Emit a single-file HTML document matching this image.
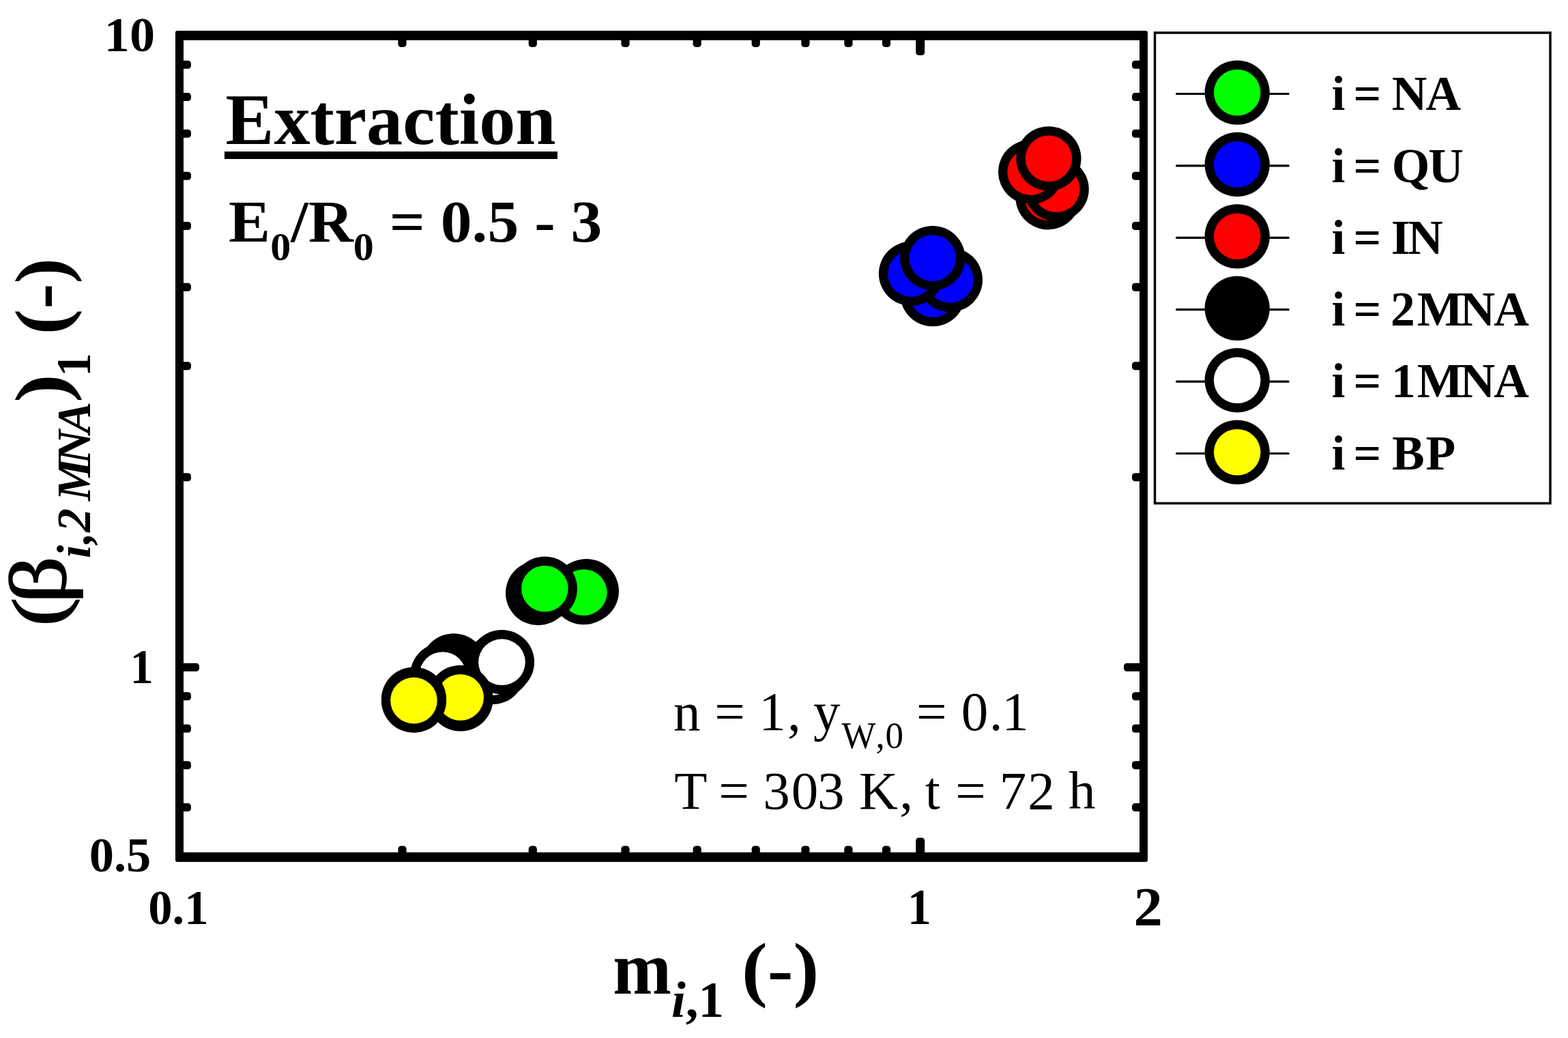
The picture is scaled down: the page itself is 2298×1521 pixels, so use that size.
<!DOCTYPE html>
<html lang="en"><head><meta charset="utf-8"><title>Extraction</title>
<style>html,body{margin:0;padding:0;background:#fff}body{width:2298px;height:1521px;overflow:hidden}svg{display:block}text{font-family:"Liberation Serif",serif;fill:#000}.b{font-weight:bold}.i{font-style:italic}.bi{font-weight:bold;font-style:italic}</style></head><body>
<svg width="2298" height="1521" viewBox="0 0 2298 1521">
<rect x="0" y="0" width="2298" height="1521" fill="#fff"/>
<g id="data">
<ellipse cx="859.4" cy="866.2" rx="47.6" ry="47.2" fill="#000"/><ellipse cx="859.4" cy="866.2" rx="34.3" ry="33.9" fill="#00ff00"/>
<ellipse cx="855.4" cy="868.1" rx="47.6" ry="47.2" fill="#000"/><ellipse cx="855.4" cy="868.1" rx="34.3" ry="33.9" fill="#00ff00"/>
<ellipse cx="788.6" cy="869.0" rx="47.6" ry="47.2" fill="#000"/><ellipse cx="788.6" cy="869.0" rx="34.3" ry="33.9" fill="#00ff00"/>
<ellipse cx="798.4" cy="862.6" rx="47.6" ry="47.2" fill="#000"/><ellipse cx="798.4" cy="862.6" rx="34.3" ry="33.9" fill="#00ff00"/>
<ellipse cx="1367.0" cy="431.1" rx="47.6" ry="47.2" fill="#000"/><ellipse cx="1367.0" cy="431.1" rx="34.3" ry="33.9" fill="#0000ff"/>
<ellipse cx="1392.4" cy="410.0" rx="47.6" ry="47.2" fill="#000"/><ellipse cx="1392.4" cy="410.0" rx="34.3" ry="33.9" fill="#0000ff"/>
<ellipse cx="1335.5" cy="401.0" rx="47.6" ry="47.2" fill="#000"/><ellipse cx="1335.5" cy="401.0" rx="34.3" ry="33.9" fill="#0000ff"/>
<ellipse cx="1366.8" cy="378.1" rx="47.6" ry="47.2" fill="#000"/><ellipse cx="1366.8" cy="378.1" rx="34.3" ry="33.9" fill="#0000ff"/>
<ellipse cx="1536.0" cy="289.2" rx="47.6" ry="47.2" fill="#000"/><ellipse cx="1536.0" cy="289.2" rx="34.3" ry="33.9" fill="#ff0000"/>
<ellipse cx="1548.2" cy="277.2" rx="47.6" ry="47.2" fill="#000"/><ellipse cx="1548.2" cy="277.2" rx="34.3" ry="33.9" fill="#ff0000"/>
<ellipse cx="1510.6" cy="252.0" rx="47.6" ry="47.2" fill="#000"/><ellipse cx="1510.6" cy="252.0" rx="34.3" ry="33.9" fill="#ff0000"/>
<ellipse cx="1536.9" cy="232.4" rx="47.6" ry="47.2" fill="#000"/><ellipse cx="1536.9" cy="232.4" rx="34.3" ry="33.9" fill="#ff0000"/>
<ellipse cx="731.0" cy="975.7" rx="47.6" ry="47.2" fill="#000"/><ellipse cx="731.0" cy="975.7" rx="34.3" ry="33.9" fill="#000000"/>
<ellipse cx="729.0" cy="975.7" rx="47.6" ry="47.2" fill="#000"/><ellipse cx="729.0" cy="975.7" rx="34.3" ry="33.9" fill="#000000"/>
<ellipse cx="665.2" cy="975.7" rx="47.6" ry="47.2" fill="#000"/><ellipse cx="665.2" cy="975.7" rx="34.3" ry="33.9" fill="#000000"/>
<ellipse cx="664.6" cy="975.7" rx="47.6" ry="47.2" fill="#000"/><ellipse cx="664.6" cy="975.7" rx="34.3" ry="33.9" fill="#000000"/>
<ellipse cx="721.6" cy="985.0" rx="47.6" ry="47.2" fill="#000"/><ellipse cx="721.6" cy="985.0" rx="34.3" ry="33.9" fill="#ffffff"/>
<ellipse cx="735.5" cy="970.2" rx="47.6" ry="47.2" fill="#000"/><ellipse cx="735.5" cy="970.2" rx="34.3" ry="33.9" fill="#ffffff"/>
<ellipse cx="648.8" cy="989.1" rx="47.6" ry="47.2" fill="#000"/><ellipse cx="648.8" cy="989.1" rx="34.3" ry="33.9" fill="#ffffff"/>
<ellipse cx="675.0" cy="1024.3" rx="47.6" ry="47.2" fill="#000"/><ellipse cx="675.0" cy="1024.3" rx="34.3" ry="33.9" fill="#ffff00"/>
<ellipse cx="674.7" cy="1021.9" rx="47.6" ry="47.2" fill="#000"/><ellipse cx="674.7" cy="1021.9" rx="34.3" ry="33.9" fill="#ffff00"/>
<ellipse cx="606.5" cy="1024.6" rx="47.6" ry="47.2" fill="#000"/><ellipse cx="606.5" cy="1024.6" rx="34.3" ry="33.9" fill="#ffff00"/>
<ellipse cx="606.5" cy="1026.5" rx="47.6" ry="47.2" fill="#000"/><ellipse cx="606.5" cy="1026.5" rx="34.3" ry="33.9" fill="#ffff00"/>
</g>
<g id="frame" fill="#000">
<path fill-rule="evenodd" d="M260 45H1679a3 3 0 0 1 3 3V1260a3 3 0 0 1-3 3H260a3 3 0 0 1-3-3V48a3 3 0 0 1 3-3ZM269 59V1249H1670V59Z"/>
</g>
<g id="ticks" fill="#000">
<rect x="263.0" y="971.8" width="29.0" height="12.0" rx="4.5"/>
<rect x="1647.0" y="971.8" width="29.0" height="12.0" rx="4.5"/>
<rect x="263.0" y="1177.1" width="17.0" height="12.0" rx="4.5"/>
<rect x="1659.0" y="1177.1" width="17.0" height="12.0" rx="4.5"/>
<rect x="263.0" y="1115.2" width="17.0" height="12.0" rx="4.5"/>
<rect x="1659.0" y="1115.2" width="17.0" height="12.0" rx="4.5"/>
<rect x="263.0" y="1061.5" width="17.0" height="12.0" rx="4.5"/>
<rect x="1659.0" y="1061.5" width="17.0" height="12.0" rx="4.5"/>
<rect x="263.0" y="1014.2" width="17.0" height="12.0" rx="4.5"/>
<rect x="1659.0" y="1014.2" width="17.0" height="12.0" rx="4.5"/>
<rect x="263.0" y="693.2" width="17.0" height="12.0" rx="4.5"/>
<rect x="1659.0" y="693.2" width="17.0" height="12.0" rx="4.5"/>
<rect x="263.0" y="530.3" width="17.0" height="12.0" rx="4.5"/>
<rect x="1659.0" y="530.3" width="17.0" height="12.0" rx="4.5"/>
<rect x="263.0" y="414.7" width="17.0" height="12.0" rx="4.5"/>
<rect x="1659.0" y="414.7" width="17.0" height="12.0" rx="4.5"/>
<rect x="263.0" y="325.0" width="17.0" height="12.0" rx="4.5"/>
<rect x="1659.0" y="325.0" width="17.0" height="12.0" rx="4.5"/>
<rect x="263.0" y="251.7" width="17.0" height="12.0" rx="4.5"/>
<rect x="1659.0" y="251.7" width="17.0" height="12.0" rx="4.5"/>
<rect x="263.0" y="189.7" width="17.0" height="12.0" rx="4.5"/>
<rect x="1659.0" y="189.7" width="17.0" height="12.0" rx="4.5"/>
<rect x="263.0" y="136.1" width="17.0" height="12.0" rx="4.5"/>
<rect x="1659.0" y="136.1" width="17.0" height="12.0" rx="4.5"/>
<rect x="263.0" y="88.7" width="17.0" height="12.0" rx="4.5"/>
<rect x="1659.0" y="88.7" width="17.0" height="12.0" rx="4.5"/>
<rect x="1342.2" y="1227.5" width="13.0" height="28.5" rx="4.5"/>
<rect x="1342.2" y="52.0" width="13.0" height="29.0" rx="4.5"/>
<rect x="583.4" y="1239.5" width="12.2" height="16.5" rx="4.5"/>
<rect x="583.4" y="52.0" width="12.2" height="17.0" rx="4.5"/>
<rect x="774.7" y="1239.5" width="12.2" height="16.5" rx="4.5"/>
<rect x="774.7" y="52.0" width="12.2" height="17.0" rx="4.5"/>
<rect x="910.4" y="1239.5" width="12.2" height="16.5" rx="4.5"/>
<rect x="910.4" y="52.0" width="12.2" height="17.0" rx="4.5"/>
<rect x="1015.6" y="1239.5" width="12.2" height="16.5" rx="4.5"/>
<rect x="1015.6" y="52.0" width="12.2" height="17.0" rx="4.5"/>
<rect x="1101.6" y="1239.5" width="12.2" height="16.5" rx="4.5"/>
<rect x="1101.6" y="52.0" width="12.2" height="17.0" rx="4.5"/>
<rect x="1174.3" y="1239.5" width="12.2" height="16.5" rx="4.5"/>
<rect x="1174.3" y="52.0" width="12.2" height="17.0" rx="4.5"/>
<rect x="1237.3" y="1239.5" width="12.2" height="16.5" rx="4.5"/>
<rect x="1237.3" y="52.0" width="12.2" height="17.0" rx="4.5"/>
<rect x="1292.9" y="1239.5" width="12.2" height="16.5" rx="4.5"/>
<rect x="1292.9" y="52.0" width="12.2" height="17.0" rx="4.5"/>
</g>
<g id="ticklabels">
<text class="b" font-size="72" transform="matrix(1.0315 0 0 1.0113 152.77 75.34)">10</text>
<text class="b" font-size="72" transform="matrix(0.9547 0 0 1.0126 190.41 1001.00)">1</text>
<text class="b" font-size="72" transform="matrix(1.0071 0 0 1.0113 130.63 1276.99)">0.5</text>
<text class="b" font-size="72" transform="matrix(0.9844 0 0 1.0113 217.19 1353.99)">0.1</text>
<text class="b" font-size="72" transform="matrix(0.9660 0 0 1.0274 1330.05 1354.40)">1</text>
<text class="b" font-size="78" transform="matrix(1.0862 0 0 1.0369 1661.47 1356.30)">2</text>
</g>
<g id="xtitle">
<text class="b" font-size="108" transform="matrix(0.9529 0 0 1.0227 898.14 1455.60)">m</text>
<text class="b" font-size="72" transform="matrix(1.0423 0 0 1.0358 983.88 1490.40)"><tspan class="i">i</tspan>,1</text>
<text class="b" font-size="108" transform="matrix(1.0497 0 0 0.9882 1087.01 1454.87)">(-)</text>
</g>
<g id="ytitle">
<text stroke="#000" stroke-width="1.6" font-size="108" transform="matrix(0 -1.1604 0.9903 0 93.12 917.61)">(</text>
<text stroke="#000" stroke-width="1.6" font-size="108" transform="matrix(0 -1.2624 1.0939 0 96.04 884.14)">β</text>
<text class="b" font-size="108" transform="matrix(0 -1.1676 0.9913 0 97.10 589.99)">)</text>
<text class="b" font-size="72" transform="matrix(0 -0.9547 1.0063 0 131.90 551.69)">1</text>
<text class="b" font-size="108" transform="matrix(0 -1.0386 0.9913 0 97.10 490.13)">(-)</text>
<text class="bi" font-size="72" transform="matrix(0 -0.9693 0.959 0 132.05 820.0)" y="0" x="2.2 23.2 41.5 88.8 144.1 190.6">i,2MNA</text>
</g>
<g id="notes">
<text class="b" font-size="104" transform="matrix(1.0220 0 0 1.0095 330.51 210.50)">Extraction</text>
<text class="b" font-size="87" transform="matrix(1.0527 0 0 0.9982 335.12 353.50)">E<tspan font-size="57" dy="28">0</tspan><tspan dy="-28">/R</tspan><tspan font-size="57" dy="28">0</tspan><tspan dy="-28"> = 0.5 - 3</tspan></text>
<text font-size="79" transform="matrix(1.0 0 0 1.02 0 1070.3)" y="0"><tspan font-size="79" dy="0" x="986.9 1026.4 1047.3 1091.9 1112.3 1154.0 1173.7 1192.0">n = 1, y</tspan><tspan font-size="53" dy="25.5" x="1233.6 1283.6 1297.5">W,0</tspan><tspan font-size="79" dy="-25.5" x="1324.0 1343.1 1387.7 1408.7 1449.8 1468.2"> = 0.1</tspan></text>
<text font-size="79" transform="matrix(1.0 0 0 1.0 0 1184.9)" y="0"><tspan font-size="79" dy="0" x="988.2 1036.5 1053.2 1097.8 1118.2 1159.8 1198.1 1237.6 1259.0 1318.2 1337.9 1355.8 1377.7 1400.2 1444.8 1464.8 1506.3 1545.8 1566.1">T = 303 K, t = 72 h</tspan></text>
<rect x="329" y="222" width="488" height="11" fill="#000"/>
</g>
<g id="legend">
<rect x="1692.5" y="48" width="579.5" height="689.5" fill="#fff" stroke="#000" stroke-width="3.5"/>
<path d="M1724.6 137.5H1888.2" stroke="#000" stroke-width="3.2" stroke-linecap="round"/>
<ellipse cx="1813.2" cy="135.6" rx="47.6" ry="47.2" fill="#000"/><ellipse cx="1813.2" cy="135.6" rx="34.3" ry="33.9" fill="#00ff00"/>
<text class="b" font-size="71.5" y="161.2" x="1951.4 1971.3 1983.6 2024.3 2039.7 2089.5">i = NA</text>
<path d="M1724.6 242.9H1888.2" stroke="#000" stroke-width="3.2" stroke-linecap="round"/>
<ellipse cx="1813.2" cy="241.0" rx="47.6" ry="47.2" fill="#000"/><ellipse cx="1813.2" cy="241.0" rx="34.3" ry="33.9" fill="#0000ff"/>
<text class="b" font-size="71.5" y="266.5" x="1951.4 1971.3 1983.6 2024.3 2039.7 2093.2">i = QU</text>
<path d="M1724.6 348.3H1888.2" stroke="#000" stroke-width="3.2" stroke-linecap="round"/>
<ellipse cx="1813.2" cy="346.4" rx="47.6" ry="47.2" fill="#000"/><ellipse cx="1813.2" cy="346.4" rx="34.3" ry="33.9" fill="#ff0000"/>
<text class="b" font-size="71.5" y="371.8" x="1951.4 1971.3 1983.6 2024.3 2038.7 2063.3">i = IN</text>
<path d="M1724.6 453.7H1888.2" stroke="#000" stroke-width="3.2" stroke-linecap="round"/>
<ellipse cx="1813.2" cy="451.8" rx="47.6" ry="47.2" fill="#000"/><ellipse cx="1813.2" cy="451.8" rx="34.3" ry="33.9" fill="#000000"/>
<text class="b" font-size="71.5" y="477.1" x="1951.4 1971.3 1983.6 2024.3 2038.1 2076.8 2139.6 2189.3">i = 2MNA</text>
<path d="M1724.6 559.1H1888.2" stroke="#000" stroke-width="3.2" stroke-linecap="round"/>
<ellipse cx="1813.2" cy="557.2" rx="47.6" ry="47.2" fill="#000"/><ellipse cx="1813.2" cy="557.2" rx="34.3" ry="33.9" fill="#ffffff"/>
<text class="b" font-size="71.5" y="582.4" x="1951.4 1971.3 1983.6 2024.3 2039.1 2076.8 2139.6 2189.3">i = 1MNA</text>
<path d="M1724.6 664.5H1888.2" stroke="#000" stroke-width="3.2" stroke-linecap="round"/>
<ellipse cx="1813.2" cy="662.6" rx="47.6" ry="47.2" fill="#000"/><ellipse cx="1813.2" cy="662.6" rx="34.3" ry="33.9" fill="#ffff00"/>
<text class="b" font-size="71.5" y="687.7" x="1951.4 1971.3 1983.6 2024.3 2039.9 2089.5">i = BP</text>
</g>
</svg></body></html>
